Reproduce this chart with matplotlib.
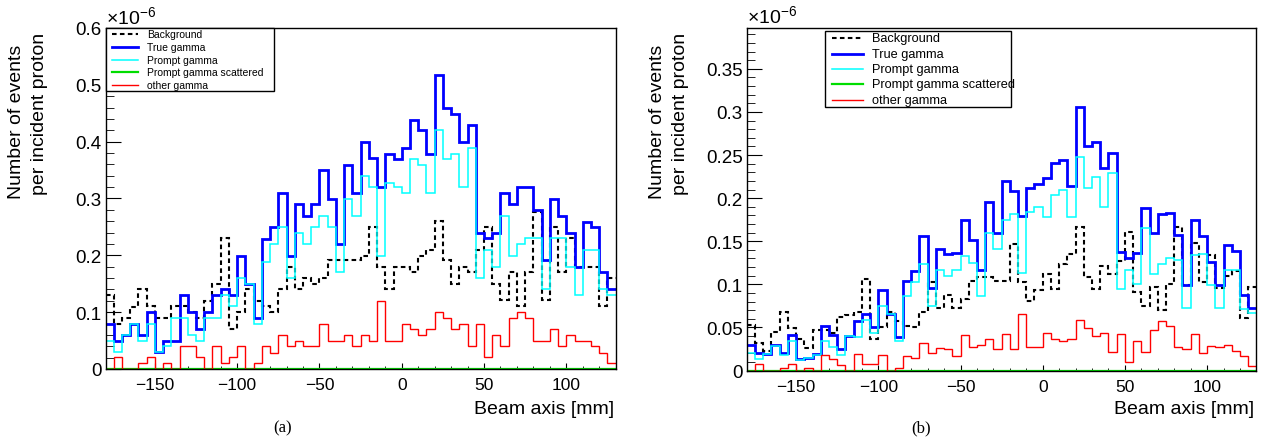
import numpy as np
import matplotlib
matplotlib.use('Agg')
import matplotlib.pyplot as plt
from matplotlib.ticker import MultipleLocator, FuncFormatter
from matplotlib.transforms import Affine2D
from matplotlib.patches import Rectangle
from matplotlib.lines import Line2D

plt.rcParams['font.family'] = ['Liberation Sans', 'DejaVu Sans']
plt.rcParams['mathtext.default'] = 'regular'

# 5 mm bins along the beam axis
edges = np.arange(-180, 131, 5)

labels = ['Background', 'True gamma', 'Prompt gamma', 'Prompt gamma scattered', 'other gamma']

# panel (a), events per incident proton in units of 1e-6
bkg_a = [0.130, 0.080, 0.090, 0.109, 0.140, 0.110, 0.090, 0.090, 0.110, 0.110,
         0.100, 0.090, 0.120, 0.150, 0.230, 0.070, 0.100, 0.140, 0.120, 0.110,
         0.101, 0.141, 0.180, 0.141, 0.160, 0.150, 0.160, 0.191, 0.191, 0.191,
         0.191, 0.199, 0.250, 0.180, 0.141, 0.180, 0.180, 0.170, 0.199, 0.210,
         0.260, 0.191, 0.150, 0.180, 0.170, 0.210, 0.250, 0.150, 0.121, 0.170,
         0.110, 0.170, 0.276, 0.121, 0.250, 0.170, 0.230, 0.180, 0.180, 0.180,
         0.110, 0.160]
true_a = [0.080, 0.050, 0.060, 0.080, 0.060, 0.100, 0.030, 0.050, 0.050, 0.130,
          0.100, 0.070, 0.100, 0.130, 0.140, 0.130, 0.199, 0.150, 0.090, 0.229,
          0.250, 0.310, 0.199, 0.290, 0.270, 0.290, 0.350, 0.299, 0.220, 0.359,
          0.309, 0.399, 0.371, 0.320, 0.379, 0.369, 0.389, 0.439, 0.420, 0.379,
          0.518, 0.459, 0.449, 0.400, 0.429, 0.240, 0.230, 0.240, 0.310, 0.290,
          0.320, 0.320, 0.280, 0.191, 0.299, 0.270, 0.240, 0.180, 0.259, 0.249,
          0.170, 0.141]
prompt_a = [0.050, 0.030, 0.060, 0.080, 0.050, 0.080, 0.030, 0.040, 0.090, 0.090,
            0.060, 0.050, 0.090, 0.090, 0.130, 0.110, 0.160, 0.150, 0.080, 0.189,
            0.220, 0.249, 0.160, 0.240, 0.220, 0.249, 0.270, 0.249, 0.170, 0.299,
            0.270, 0.339, 0.320, 0.199, 0.328, 0.320, 0.309, 0.369, 0.359, 0.309,
            0.420, 0.369, 0.379, 0.320, 0.389, 0.160, 0.210, 0.180, 0.270, 0.199,
            0.220, 0.230, 0.230, 0.141, 0.230, 0.230, 0.180, 0.131, 0.210, 0.210,
            0.141, 0.131]
scat_a = [0.0] * 62
other_a = [0.000, 0.021, 0.000, 0.000, 0.011, 0.021, 0.000, 0.011, 0.000, 0.040,
           0.040, 0.021, 0.000, 0.040, 0.011, 0.021, 0.040, 0.000, 0.011, 0.040,
           0.029, 0.060, 0.040, 0.050, 0.040, 0.040, 0.080, 0.050, 0.050, 0.060,
           0.040, 0.060, 0.050, 0.120, 0.050, 0.050, 0.080, 0.070, 0.060, 0.070,
           0.100, 0.090, 0.070, 0.080, 0.041, 0.080, 0.021, 0.060, 0.041, 0.090,
           0.100, 0.090, 0.050, 0.050, 0.070, 0.041, 0.060, 0.050, 0.050, 0.041,
           0.029, 0.011]

# panel (b)
bkg_b = [0.053, 0.032, 0.023, 0.045, 0.068, 0.049, 0.036, 0.026, 0.047, 0.047,
         0.043, 0.062, 0.064, 0.068, 0.106, 0.036, 0.050, 0.068, 0.057, 0.052,
         0.050, 0.068, 0.103, 0.072, 0.088, 0.072, 0.083, 0.104, 0.108, 0.108,
         0.104, 0.104, 0.147, 0.103, 0.081, 0.093, 0.112, 0.095, 0.124, 0.135,
         0.166, 0.108, 0.095, 0.121, 0.112, 0.127, 0.161, 0.091, 0.075, 0.097,
         0.070, 0.100, 0.167, 0.099, 0.148, 0.103, 0.134, 0.096, 0.110, 0.115,
         0.061, 0.097]
true_b = [0.030, 0.020, 0.019, 0.030, 0.020, 0.041, 0.013, 0.015, 0.019, 0.052,
          0.041, 0.025, 0.040, 0.057, 0.065, 0.050, 0.093, 0.065, 0.039, 0.104,
          0.115, 0.156, 0.096, 0.141, 0.135, 0.136, 0.175, 0.152, 0.117, 0.195,
          0.160, 0.220, 0.208, 0.179, 0.212, 0.216, 0.223, 0.241, 0.244, 0.214,
          0.306, 0.261, 0.265, 0.235, 0.252, 0.137, 0.130, 0.136, 0.188, 0.159,
          0.182, 0.183, 0.157, 0.099, 0.175, 0.156, 0.126, 0.099, 0.146, 0.139,
          0.088, 0.072]
prompt_b = [0.020, 0.013, 0.019, 0.029, 0.018, 0.034, 0.012, 0.014, 0.018, 0.034,
            0.027, 0.018, 0.040, 0.039, 0.059, 0.043, 0.075, 0.065, 0.034, 0.087,
            0.103, 0.124, 0.075, 0.117, 0.110, 0.117, 0.133, 0.125, 0.087, 0.160,
            0.141, 0.175, 0.182, 0.113, 0.184, 0.190, 0.178, 0.204, 0.210, 0.178,
            0.248, 0.212, 0.225, 0.190, 0.229, 0.095, 0.117, 0.100, 0.165, 0.112,
            0.123, 0.131, 0.128, 0.073, 0.134, 0.135, 0.099, 0.073, 0.117, 0.117,
            0.071, 0.067]
scat_b = [0.0] * 62
other_b = [0.000, 0.007, 0.000, 0.000, 0.003, 0.007, 0.000, 0.003, 0.000, 0.018,
           0.013, 0.006, 0.000, 0.019, 0.007, 0.007, 0.018, 0.000, 0.003, 0.017,
           0.015, 0.032, 0.020, 0.026, 0.025, 0.017, 0.041, 0.027, 0.030, 0.036,
           0.025, 0.042, 0.025, 0.065, 0.027, 0.027, 0.044, 0.037, 0.034, 0.037,
           0.059, 0.049, 0.040, 0.044, 0.022, 0.042, 0.010, 0.034, 0.022, 0.047,
           0.057, 0.052, 0.027, 0.025, 0.042, 0.020, 0.028, 0.027, 0.030, 0.023,
           0.017, 0.005]

W, H = 1262, 439
fig = plt.figure(figsize=(W / 100, H / 100), dpi=100)
# transform in pixels measured from the top-left corner
pix = Affine2D().scale(0.01, -0.01).translate(0, H / 100) + fig.dpi_scale_trans

styles = [dict(color='black', lw=1.5, ls=(0, (2.2, 1.6))),
          dict(color='#0000ff', lw=2.0),
          dict(color='#00ffff', lw=1.1),
          dict(color='#00dd00', lw=1.6),
          dict(color='#ff0000', lw=1.0)]
order = [2, 1, 4, 3, 0]


def yfmt(v, pos):
    return '0' if abs(v) < 1e-9 else '%g' % round(v, 3)


def panel(box, series, ymax, ymajor, yminor, leg, tag, tag_x):
    x0, y0, x1, y1 = box
    ax = fig.add_axes([x0 / W, 1 - y1 / H, (x1 - x0) / W, (y1 - y0) / H])
    for i in order:
        ax.stairs(series[i], edges, baseline=None, zorder=2 + i * 0.1, **styles[i])
    ax.set_xlim(-180, 130)
    ax.set_ylim(0, ymax)
    ax.xaxis.set_major_locator(MultipleLocator(50))
    ax.xaxis.set_minor_locator(MultipleLocator(10))
    ax.yaxis.set_major_locator(MultipleLocator(ymajor))
    ax.yaxis.set_minor_locator(MultipleLocator(yminor))
    ax.yaxis.set_major_formatter(FuncFormatter(yfmt))
    ax.tick_params(which='both', direction='in', top=False, right=False)
    ax.tick_params(axis='x', which='major', length=4.5, pad=6, labelsize=12.5)
    ax.tick_params(axis='x', which='minor', length=2.2)
    ax.tick_params(axis='y', which='major', length=10.8, pad=3, labelsize=13.5)
    ax.tick_params(axis='y', which='minor', length=5.4)
    for s in ax.spines.values():
        s.set_linewidth(1.0)

    # legend box drawn like the ROOT TLegend
    lx0, ly0, lx1, ly1, fs, dy, hx0, hx1, tx = leg
    fig.add_artist(Rectangle((lx0, ly1), lx1 - lx0, ly0 - ly1, transform=pix,
                             fill=True, facecolor='white', edgecolor='black', lw=1.0, zorder=5))
    for k, lab in enumerate(labels):
        yy = ly0 + dy * (k + 0.5)
        fig.add_artist(Line2D([hx0, hx1], [yy, yy], transform=pix, zorder=6, **styles[k]))
        fig.text(tx, yy, lab, transform=pix, fontsize=fs, va='center', ha='left', zorder=6)

    fig.text(x0, y0 - 1, r'$\times10^{-6}$', transform=pix, fontsize=14, ha='left', va='bottom')
    fig.text(x0 - 89, 122, 'Number of events', transform=pix, fontsize=14,
             rotation=90, ha='center', va='center')
    fig.text(x0 - 66, 114, 'per incident proton', transform=pix, fontsize=14,
             rotation=90, ha='center', va='center')
    fig.text(x1 - 2, 409, 'Beam axis [mm]', transform=pix, fontsize=14, ha='right', va='center')
    fig.text(tag_x, 428, tag, transform=pix, fontsize=12,
             family='Liberation Serif', ha='center', va='center')
    return ax


panel((105.5, 29, 615.7, 370), [bkg_a, true_a, prompt_a, scat_a, other_a],
      0.6, 0.1, 0.02, (106, 29, 274, 92, 7.5, 12.6, 112, 138, 147), '(a)', 283)
panel((746.8, 28.5, 1256.4, 371.5), [bkg_b, true_b, prompt_b, scat_b, other_b],
      0.398, 0.05, 0.01, (825, 31.7, 1011, 108.3, 9.2, 15.3, 832, 863, 872), '(b)', 921)

fig.savefig('out.png', dpi=100)
